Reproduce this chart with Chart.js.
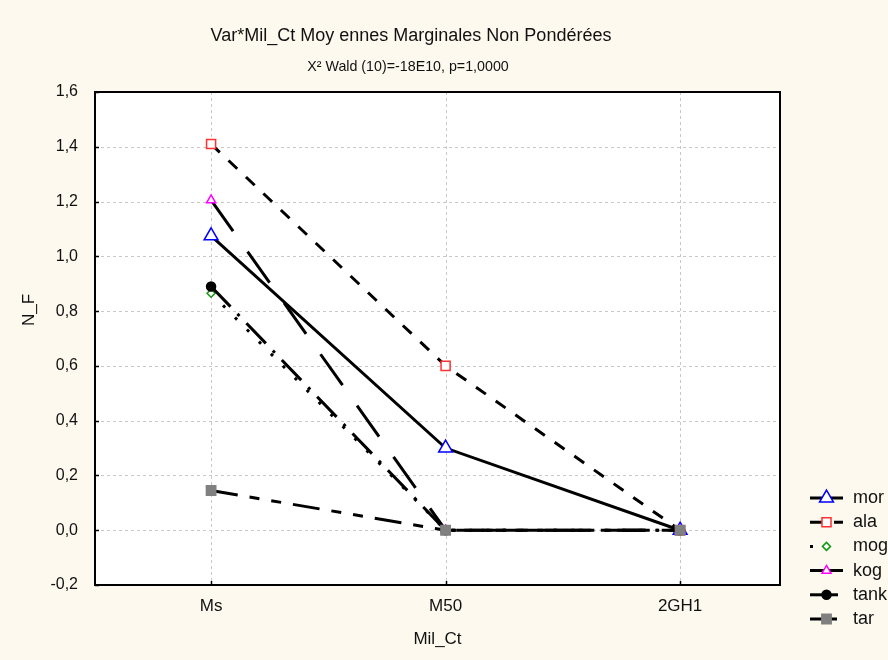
<!DOCTYPE html>
<html>
  <head>
    <script src="https://cdn.jsdelivr.net/npm/chart.js"></script>
    <style>
      body { margin: 0; background: #fdf9ee; }
      #wrap { width: 888px; height: 660px; }
    </style>
    <script>
      // categories on the x axis
      const categories = ['Ms', 'M50', '2GH1'];
      const seriesNames = ['mor', 'ala', 'mog', 'kog', 'tank', 'tar'];

      // values (N_F)
      const mor = [1.075, 0.30, 0.0];
      const ala = [1.41, 0.60, 0.0];
      const mog = [0.865, 0.0, 0.0];
      const kog = [1.205, 0.0, 0.0];
      const tank = [0.89, 0.0, 0.0];
      const tar = [0.145, 0.0, 0.0];
      const seriesValues = [mor, ala, mog, kog, tank, tar];

      const yTicks = [-0.2, 0, 0.2, 0.4, 0.6, 0.8, 1.0, 1.2, 1.4, 1.6];

      const FONT = '"Liberation Sans", Arial, sans-serif';

      // line + marker look of each series
      const looks = [
        { dash: [], style: 'triangle', radius: 8, edge: '#0000ff', fill: '#ffffff' },
        { dash: [12, 12], style: 'rect', radius: 6.4, edge: '#ff3030', fill: '#ffffff' },
        { dash: [3, 14], style: 'rectRot', radius: 4, edge: '#119911', fill: '#ffffff' },
        { dash: [38, 25], style: 'triangle', radius: 5.2, edge: '#ff00ff', fill: '#ffffff' },
        { dash: [28, 10, 3, 10], style: 'circle', radius: 4.5, edge: '#000000', fill: '#000000' },
        { dash: [27, 12, 10, 12, 10, 12], style: 'rect', radius: 6.6, edge: '#808080', fill: '#808080' }
      ];

      window.onload = function() {
        const datasets = seriesNames.map(function(name, i) {
          const lk = looks[i];
          return {
            label: name,
            data: seriesValues[i].map((v, j) => ({ x: j, y: v })),
            borderColor: '#000000',
            borderWidth: 3,
            borderDash: lk.dash,
            pointStyle: lk.style,
            pointRadius: lk.radius,
            pointBorderColor: lk.edge,
            pointBackgroundColor: lk.fill,
            pointBorderWidth: 1.5,
            tension: 0,
            order: seriesNames.length - i
          };
        });

        // white plot area, dashed grid, black frame, inner tick marks
        const frame = {
          id: 'frame',
          beforeDatasetsDraw(chart) {
            const a = chart.chartArea, c = chart.ctx;
            const ys = chart.scales.y, xs = chart.scales.x;
            c.save();
            c.fillStyle = '#ffffff';
            c.fillRect(a.left, a.top, a.right - a.left, a.bottom - a.top);
            c.strokeStyle = '#c8c8c8';
            c.lineWidth = 1;
            c.setLineDash([3, 3]);
            c.beginPath();
            yTicks.forEach(function(t) {
              const py = Math.round(ys.getPixelForValue(t)) + 0.5;
              c.moveTo(a.left, py); c.lineTo(a.right, py);
            });
            categories.forEach(function(_, j) {
              const px = Math.round(xs.getPixelForValue(j)) + 0.5;
              c.moveTo(px, a.top); c.lineTo(px, a.bottom);
            });
            c.stroke();
            c.restore();
          },
          afterDatasetsDraw(chart) {
            const a = chart.chartArea, c = chart.ctx;
            const ys = chart.scales.y, xs = chart.scales.x;
            c.save();
            c.strokeStyle = '#000000';
            c.lineWidth = 2;
            c.strokeRect(a.left, a.top, a.right - a.left, a.bottom - a.top);
            c.lineWidth = 1.5;
            c.beginPath();
            yTicks.forEach(function(t) {
              const py = Math.round(ys.getPixelForValue(t)) + 0.5;
              c.moveTo(a.left, py); c.lineTo(a.left + 4, py);
            });
            categories.forEach(function(_, j) {
              const px = Math.round(xs.getPixelForValue(j)) + 0.5;
              c.moveTo(px, a.bottom); c.lineTo(px, a.bottom - 4);
            });
            c.stroke();
            c.restore();
          },
          afterDraw(chart) {
            const c = chart.ctx;
            c.save();
            c.fillStyle = '#111111';
            c.textAlign = 'center';
            c.textBaseline = 'middle';
            c.font = '18px ' + FONT;
            c.fillText('Var*Mil_Ct Moy ennes Marginales Non Pondérées', 411, 36);
            // second title line: a little condensed, as in the picture
            c.save();
            c.font = '15px ' + FONT;
            c.translate(408, 67);
            c.scale(0.95, 1);
            c.fillText('X² Wald (10)=-18E10, p=1,0000', 0, 0);
            c.restore();
            // y axis title
            c.font = '17px ' + FONT;
            c.translate(29, 310);
            c.rotate(-Math.PI / 2);
            c.fillText('N_F', 0, 0);
            c.restore();

            // legend: line sample + marker + name
            c.save();
            c.font = '18px ' + FONT;
            c.textBaseline = 'middle';
            c.textAlign = 'left';
            chart.data.datasets.forEach(function(ds, i) {
              const y = 498 + i * 24.2;
              const opts = { pointStyle: ds.pointStyle, radius: ds.pointRadius, borderWidth: ds.pointBorderWidth };
              c.strokeStyle = '#000000';
              c.lineWidth = 3;
              c.setLineDash(ds.borderDash);
              c.beginPath();
              c.moveTo(810, y); c.lineTo(843, y);
              c.stroke();
              c.setLineDash([]);
              c.fillStyle = ds.pointBackgroundColor;
              c.strokeStyle = ds.pointBorderColor;
              c.lineWidth = ds.pointBorderWidth;
              Chart.helpers.drawPoint(c, opts, 826.5, y);
              c.fillStyle = '#111111';
              c.fillText(ds.label, 853, y);
            });
            c.restore();
          }
        };

        new Chart(document.getElementById('myChart'), {
          type: 'line',
          data: { datasets: datasets },
          plugins: [frame],
          options: {
            responsive: false,
            animation: false,
            layout: { padding: { top: 92, right: 108, bottom: 0, left: 0 } },
            plugins: { legend: { display: false }, title: { display: false }, tooltip: { enabled: false } },
            scales: {
              x: {
                type: 'linear',
                min: -0.495,
                max: 2.426,
                afterFit(s) { s.height = 75; },
                afterBuildTicks(s) { s.ticks = categories.map((_, j) => ({ value: j })); },
                ticks: {
                  padding: 11,
                  color: '#111111',
                  font: { family: FONT, size: 17 },
                  callback: (v) => categories[v]
                },
                grid: { display: false, drawTicks: false },
                border: { display: false },
                title: {
                  display: true,
                  text: 'Mil_Ct',
                  color: '#111111',
                  font: { family: FONT, size: 17 },
                  padding: { top: 0, bottom: 10 }
                }
              },
              y: {
                min: -0.2,
                max: 1.6,
                afterFit(s) { s.width = 95; },
                afterBuildTicks(s) { s.ticks = yTicks.map(v => ({ value: v })); },
                ticks: {
                  padding: 17,
                  color: '#111111',
                  font: { family: FONT, size: 16 },
                  callback: (v) => v.toFixed(1).replace('.', ',')
                },
                grid: { display: false, drawTicks: false },
                border: { display: false }
              }
            }
          }
        });
      };
    </script>
  </head>
  <body>
    <div id="wrap">
      <canvas id="myChart" width="888" height="660"></canvas>
    </div>
  </body>
</html>
